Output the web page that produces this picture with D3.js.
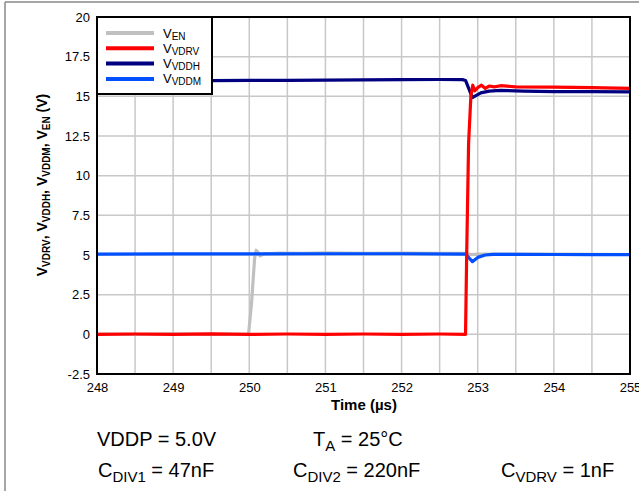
<!DOCTYPE html>
<html><head><meta charset="utf-8">
<script src="https://cdn.jsdelivr.net/npm/d3@7/dist/d3.min.js"></script>
<style>
html,body{margin:0;padding:0;background:#fff;}
svg{display:block;font-family:"Liberation Sans",Arial,sans-serif;}
</style></head>
<body>
<svg id="c" width="639" height="491"></svg>
<script>
// ---- data ----
const xTicks = [248, 249, 250, 251, 252, 253, 254, 255];
const yTicks = [-2.5, 0, 2.5, 5, 7.5, 10, 12.5, 15, 17.5, 20];
const yTickLabels = ["-2.5", "0", "2.5", "5", "7.5", "10", "12.5", "15", "17.5", "20"];
const seriesNames = ["EN", "VDRV", "VDDH", "VDDM"];
const seriesColors = ["#c0c0c0", "#ff0000", "#000080", "#0050ff"];

const vEN = [[248,0.02],[248.5,0.0],[249,0.03],[249.5,0.0],[249.99,0.0],[250.03,2.0],[250.07,4.8],[250.09,5.3],[250.11,5.2],[250.14,4.95],[250.2,5.08],[250.4,5.12],[250.7,5.1],[251,5.13],[251.5,5.1],[252,5.12],[252.5,5.1],[252.85,5.1],[252.92,5.02],[253.0,5.05],[253.3,5.05],[254,5.05],[255,5.03]];
const vVDRV = [[248,0.0],[248.5,0.02],[249,0.0],[249.5,0.03],[250,0.0],[250.5,0.02],[251,0.0],[251.5,0.02],[252,0.0],[252.5,0.02],[252.84,0.0],[252.855,5.0],[252.88,12.0],[252.91,15.0],[252.935,15.7],[252.96,15.35],[253.0,15.55],[253.05,15.7],[253.1,15.5],[253.15,15.65],[253.22,15.6],[253.3,15.67],[253.5,15.6],[254,15.58],[254.5,15.55],[255,15.5]];
const vVDDH = [[248,15.95],[248.5,15.96],[249,15.97],[249.5,15.99],[250,16.0],[250.5,16.01],[251,16.02],[251.5,16.04],[252,16.05],[252.5,16.06],[252.8,16.05],[252.84,16.0],[252.93,14.92],[253.04,15.22],[253.15,15.33],[253.3,15.37],[253.6,15.33],[254,15.3],[254.5,15.3],[255,15.28]];
const vVDDM = [[248,5.06],[249,5.07],[250,5.07],[251,5.08],[252,5.08],[252.84,5.06],[252.93,4.58],[253.0,4.85],[253.1,5.0],[253.2,5.04],[253.5,5.04],[254,5.03],[254.5,5.02],[255,5.02]];
const allSeries = [vEN, vVDRV, vVDDH, vVDDM];

// ---- layout ----
const svg = d3.select("#c");
const L = 97, T = 17, R = 630, B = 374;
const x = d3.scaleLinear().domain([248, 255]).range([L, R]);
const y = d3.scaleLinear().domain([-2.5, 20]).range([B, T]);

// outer frame
svg.append("line").attr("x1",5).attr("x2",5).attr("y1",2).attr("y2",491).attr("stroke","#888").attr("stroke-width",1.5);
svg.append("line").attr("x1",5).attr("x2",639).attr("y1",2).attr("y2",2).attr("stroke","#888").attr("stroke-width",1.5);

// grid
const gx = d3.range(248, 255.01, 0.5);
svg.append("g").selectAll("line").data(gx).join("line")
  .attr("x1", d=>x(d)).attr("x2", d=>x(d)).attr("y1", T).attr("y2", B)
  .attr("stroke", "#c8c8c8").attr("stroke-width", 1.5);
svg.append("g").selectAll("line").data(yTicks).join("line")
  .attr("x1", L).attr("x2", R).attr("y1", d=>y(d)).attr("y2", d=>y(d))
  .attr("stroke", "#c8c8c8").attr("stroke-width", 1.5);

// axes (labels only)
const xAxis = d3.axisBottom(x).tickValues(xTicks).tickSize(0).tickPadding(9).tickFormat(d3.format("d"));
const gX = svg.append("g").attr("transform", `translate(0,${B})`).call(xAxis);
const yAxis = d3.axisLeft(y).tickValues(yTicks).tickSize(0).tickPadding(7).tickFormat((d,i)=>yTickLabels[i]);
const gY = svg.append("g").attr("transform", `translate(${L},0)`).call(yAxis);
[gX, gY].forEach(g => {
  g.select(".domain").remove();
  g.selectAll("text").attr("font-size", 13).attr("fill", "#000").attr("font-family", "Liberation Sans, Arial, sans-serif");
});

// lines
const line = d3.line().x(d=>x(d[0])).y(d=>y(d[1]));
const order = [0, 2, 3, 1];
const clip = svg.append("clipPath").attr("id","clp").append("rect").attr("x",L).attr("y",T).attr("width",R-L).attr("height",B-T);
order.forEach(i => {
  svg.append("path").datum(allSeries[i]).attr("d", line)
    .attr("fill", "none").attr("stroke", seriesColors[i]).attr("stroke-width", 3.2)
    .attr("stroke-linejoin", "round").attr("stroke-linecap", "round")
    .attr("clip-path", "url(#clp)");
});

// plot frame
svg.append("rect").attr("x", L).attr("y", T).attr("width", R-L).attr("height", B-T)
  .attr("fill", "none").attr("stroke", "#000").attr("stroke-width", 2);

// legend
const lg = svg.append("g");
lg.append("rect").attr("x", L).attr("y", T).attr("width", 115).attr("height", 77)
  .attr("fill", "#fff").attr("stroke", "#000").attr("stroke-width", 2);
seriesNames.forEach((n, i) => {
  const yy = 33 + i * 15.3;
  lg.append("line").attr("x1", 106).attr("x2", 154).attr("y1", yy).attr("y2", yy)
    .attr("stroke", seriesColors[i]).attr("stroke-width", 4);
  const t = lg.append("text").attr("x", 163).attr("y", yy + 4.5).attr("font-size", 13).attr("fill", "#000");
  t.append("tspan").text("V");
  t.append("tspan").attr("font-size", 10).attr("dy", 2).text(n);
});

// axis titles
const xt = svg.append("text").attr("x", 364).attr("y", 410).attr("text-anchor", "middle")
  .attr("font-size", 15).attr("font-weight", "bold").text("Time (µs)");

const yt = svg.append("text").attr("transform", "translate(47,185) rotate(-90)")
  .attr("text-anchor", "middle").attr("font-size", 14).attr("font-weight", "bold");
const yParts = [["V",""],["VDRV","s"],[", V",""],["VDDH","s"],[", V",""],["VDDM","s"],[", V",""],["EN","s"],[" (V)",""]];
let sub = false;
yParts.forEach(p => {
  const ts = yt.append("tspan").text(p[0]);
  if (p[1] === "s") { ts.attr("font-size", 10).attr("dy", sub ? 0 : 3); sub = true; }
  else { if (sub) { ts.attr("dy", -3); sub = false; } }
});

// annotations
function note(xp, yp, parts) {
  const t = svg.append("text").attr("x", xp).attr("y", yp).attr("font-size", 20).attr("fill", "#000");
  parts.forEach(p => {
    const ts = t.append("tspan").text(p[0]);
    if (p[1] === "s") ts.attr("font-size", 15).attr("dy", 5);
    else if (p[1] === "b") ts.attr("dy", -5);
  });
}
note(97, 446, [["VDDP = 5.0V",""]]);
note(313, 446, [["T",""],["A","s"],[" = 25°C","b"]]);
note(98, 477, [["C",""],["DIV1","s"],[" = 47nF","b"]]);
note(293, 477, [["C",""],["DIV2","s"],[" = 220nF","b"]]);
note(501, 477, [["C",""],["VDRV","s"],[" = 1nF","b"]]);
</script>
</body></html>
